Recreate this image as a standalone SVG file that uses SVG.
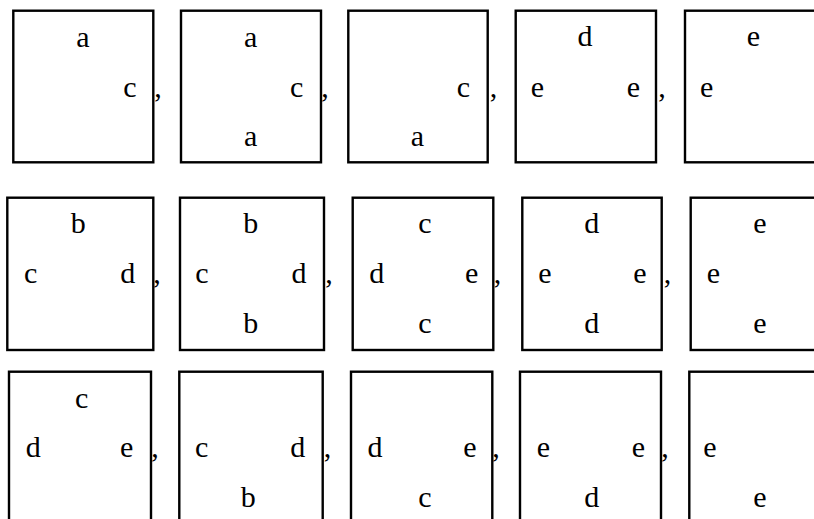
<svg xmlns="http://www.w3.org/2000/svg" width="814" height="519" viewBox="0 0 814 519">
<style>
.box{fill:none;stroke:#000;stroke-width:2.4}
text{font-family:'Liberation Serif','Times New Roman',serif;font-size:30px;fill:#000;text-anchor:middle}
</style>
<rect width="814" height="519" fill="#fff"/>
<g id="row1">
<g id="r1b1"><rect class="box" x="13.3" y="10.7" width="140" height="151.6"/><text x="83" y="46.5">a</text><text x="130" y="96.7">c</text></g>
<g id="r1b2"><rect class="box" x="181" y="10.7" width="140" height="151.6"/><text x="250.7" y="46.5">a</text><text x="296.7" y="96.7">c</text><text x="250.7" y="145.7">a</text></g>
<g id="r1b3"><rect class="box" x="348.3" y="10.7" width="139.4" height="151.6"/><text x="463.3" y="96.7">c</text><text x="417.3" y="145.7">a</text></g>
<g id="r1b4"><rect class="box" x="515.7" y="10.7" width="140.3" height="151.6"/><text x="585" y="46">d</text><text x="537.3" y="96.7">e</text><text x="633.3" y="96.7">e</text></g>
<g id="r1b5"><rect class="box" x="685" y="10.7" width="150" height="151.6"/><text x="753.3" y="46">e</text><text x="706.7" y="96.7">e</text></g>
<text x="158" y="96.7">,</text><text x="325" y="96.7">,</text><text x="493.5" y="96.7">,</text><text x="662" y="96.7">,</text>
</g>
<g id="row2">
<g id="r2b1"><rect class="box" x="7.3" y="197.7" width="146" height="152.3"/><text x="78.3" y="233.3">b</text><text x="30.7" y="283.3">c</text><text x="127.7" y="283.3">d</text></g>
<g id="r2b2"><rect class="box" x="180" y="197.7" width="144" height="152.3"/><text x="250.7" y="233.3">b</text><text x="202" y="283.3">c</text><text x="299" y="283.3">d</text><text x="250.7" y="333.3">b</text></g>
<g id="r2b3"><rect class="box" x="352.7" y="197.7" width="140.6" height="152.3"/><text x="425" y="233.3">c</text><text x="376.7" y="283.3">d</text><text x="471.7" y="283.3">e</text><text x="425" y="333.3">c</text></g>
<g id="r2b4"><rect class="box" x="522.3" y="197.7" width="139.4" height="152.3"/><text x="591.7" y="233.3">d</text><text x="545" y="283.3">e</text><text x="640" y="283.3">e</text><text x="591.7" y="333.3">d</text></g>
<g id="r2b5"><rect class="box" x="690.7" y="197.7" width="150" height="152.3"/><text x="760" y="233.3">e</text><text x="713.3" y="283.3">e</text><text x="760" y="333.3">e</text></g>
<text x="157" y="283.3">,</text><text x="329" y="283.3">,</text><text x="497.5" y="283.3">,</text><text x="667.5" y="283.3">,</text>
</g>
<g id="row3">
<g id="r3b1"><rect class="box" x="9" y="371.7" width="142" height="160"/><text x="81.7" y="408.3">c</text><text x="33.3" y="456.7">d</text><text x="126.7" y="456.7">e</text></g>
<g id="r3b2"><rect class="box" x="179.3" y="371.7" width="143.4" height="160"/><text x="201.7" y="456.7">c</text><text x="297.7" y="456.7">d</text><text x="248.3" y="506.7">b</text></g>
<g id="r3b3"><rect class="box" x="351" y="371.7" width="141.3" height="160"/><text x="375" y="456.7">d</text><text x="470" y="456.7">e</text><text x="425" y="506.7">c</text></g>
<g id="r3b4"><rect class="box" x="520" y="371.7" width="141" height="160"/><text x="543.3" y="456.7">e</text><text x="638.3" y="456.7">e</text><text x="591.7" y="506.7">d</text></g>
<g id="r3b5"><rect class="box" x="689.3" y="371.7" width="150" height="160"/><text x="710" y="456.7">e</text><text x="760" y="506.7">e</text></g>
<text x="155" y="456.7">,</text><text x="327.5" y="456.7">,</text><text x="496" y="456.7">,</text><text x="665" y="456.7">,</text>
</g>
</svg>
